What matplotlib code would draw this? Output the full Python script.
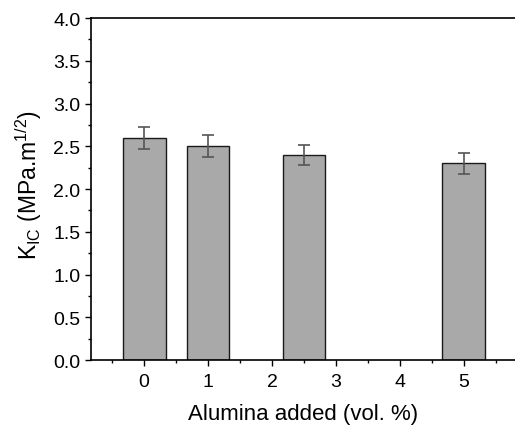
import matplotlib
matplotlib.use("Agg")
import matplotlib.pyplot as plt
from matplotlib.ticker import MultipleLocator, FormatStrFormatter

plt.rcParams["font.family"] = ["Liberation Sans", "DejaVu Sans"]
plt.rcParams["mathtext.fontset"] = "custom"
plt.rcParams["mathtext.rm"] = "Liberation Sans"
plt.rcParams["mathtext.it"] = "Liberation Sans"

# data
alumina = [0, 1, 2.5, 5]
k_ic = [2.6, 2.5, 2.4, 2.3]
k_ic_err = [0.13, 0.13, 0.12, 0.12]
x_ticks = [0, 1, 2, 3, 4, 5]

fig = plt.figure(figsize=(5.15, 4.35), dpi=100)
ax = fig.add_axes([0.1767, 0.1701, 0.8233, 0.7862])

ax.bar(alumina, k_ic, width=0.67, color="#a9a9a9", edgecolor="#1a1a1a", linewidth=1.0,
       yerr=k_ic_err, error_kw=dict(ecolor="#555555", elinewidth=1.2, capsize=4, capthick=1.2))

ax.set_xlim(-0.83, 5.80)
ax.set_ylim(0, 4.0)
ax.set_xticks(x_ticks)
ax.xaxis.set_minor_locator(MultipleLocator(0.5))
ax.yaxis.set_major_locator(MultipleLocator(0.5))
ax.yaxis.set_minor_locator(MultipleLocator(0.25))
ax.yaxis.set_major_formatter(FormatStrFormatter("%.1f"))

ax.spines["right"].set_visible(False)
for s in ["left", "bottom", "top"]:
    ax.spines[s].set_linewidth(1.2)
    ax.spines[s].set_color("black")

ax.tick_params(which="major", direction="out", length=4.5, width=1, labelsize=14,
               colors="black", pad=3)
ax.tick_params(axis="x", which="major", pad=4.5)
ax.tick_params(which="minor", direction="out", length=2.5, width=1)

ax.set_xlabel("Alumina added (vol. %)", fontsize=16, labelpad=10)
ax.set_ylabel("K$_{IC}$ (MPa.m$^{1/2}$)", fontsize=16.5)
ax.yaxis.set_label_coords(-0.11, 0.515)

fig.savefig("out.png", dpi=100)
